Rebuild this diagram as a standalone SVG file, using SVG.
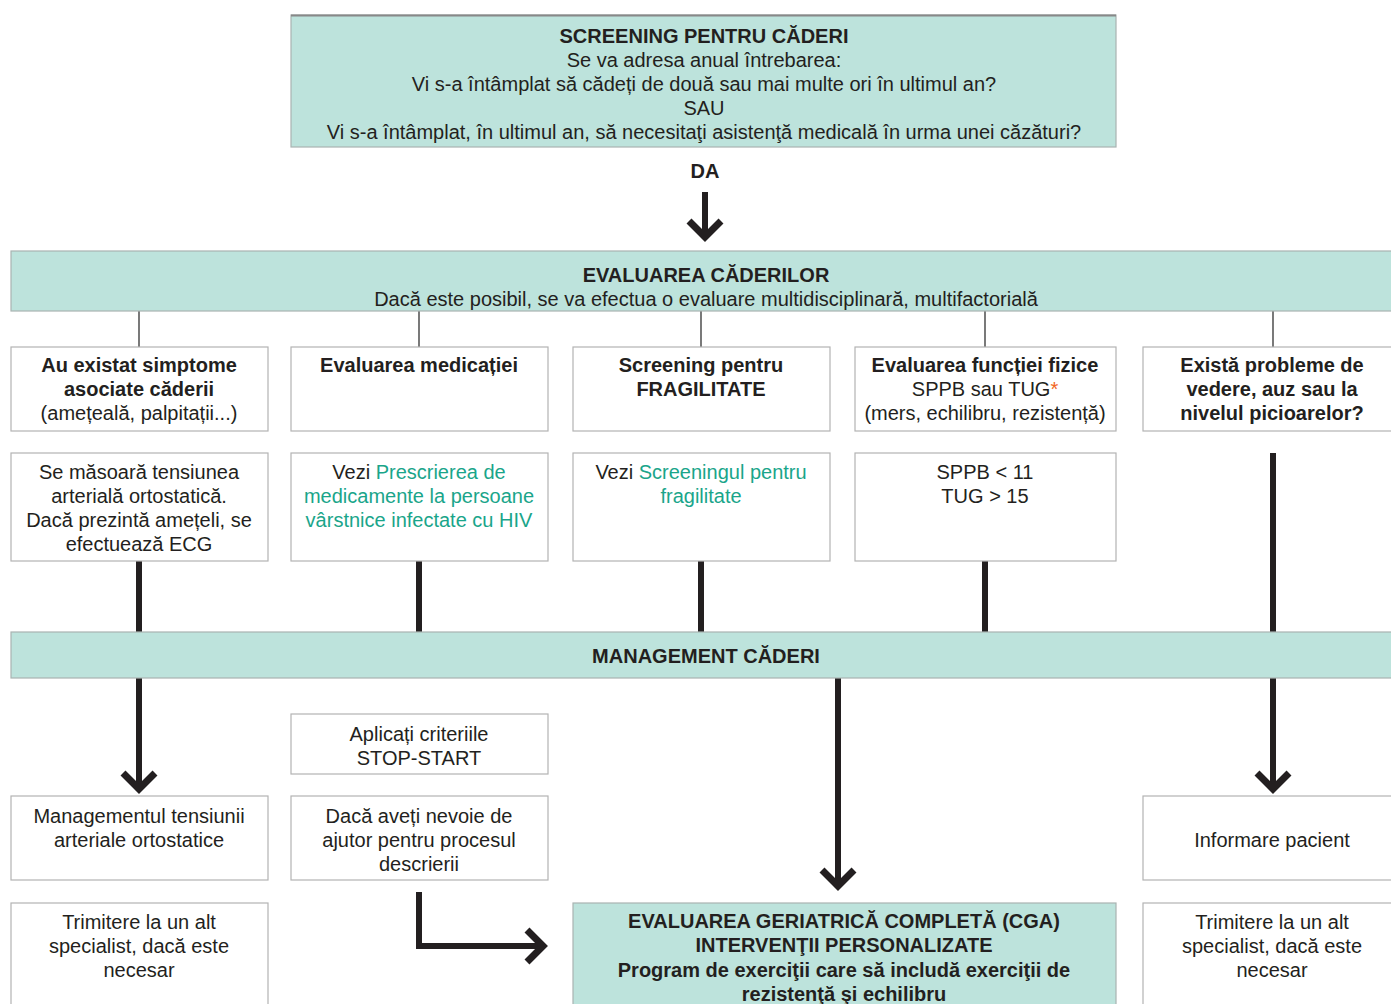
<svg xmlns="http://www.w3.org/2000/svg" width="1391" height="1004" viewBox="0 0 1391 1004">
  <style>
    text { font-family: "Liberation Sans", Arial, sans-serif; font-size: 20px; fill: #231f20; text-anchor: middle; }
    .b { font-weight: bold; }
    .link { fill: #1aa58a; }
    .star { fill: #f26522; }
    .box { fill: #ffffff; stroke: #b3b3b3; stroke-width: 1.2; }
    .band { fill: #bde3dc; stroke: #a9b3b1; stroke-width: 1.2; }
    .thin { stroke: #333333; stroke-width: 1.3; fill: none; }
    .thick { stroke: #231f20; stroke-width: 6; fill: none; }
    .arrow { stroke: #231f20; stroke-width: 6; fill: none; marker-end: url(#chev); }
  </style>
  <defs>
    <marker id="chev" markerUnits="userSpaceOnUse" markerWidth="40" markerHeight="40" refX="0" refY="0" orient="auto" overflow="visible">
      <path d="M-16,-16 L0,0 L-16,16" fill="none" stroke="#231f20" stroke-width="7" stroke-linejoin="miter"/>
    </marker>
  </defs>

  <rect width="1391" height="1004" fill="#ffffff"/>

  <!-- connectors -->
  <g id="connectors">
    <!-- DA -->
    <path class="arrow" d="M705,192 V237"/>
    <!-- thin drops from the evaluation band -->
    <path class="thin" d="M139,311 V347 M419,311 V347 M701,311 V347 M985,311 V347 M1273,311 V347"/>
    <!-- thick links into management -->
    <path class="thick" d="M139,561 V632 M419,561 V632 M701,561 V632 M985,561 V632 M1273,453 V632"/>
    <!-- management outputs -->
    <path class="arrow" d="M139,678 V789"/>
    <path class="arrow" d="M838,678 V886"/>
    <path class="arrow" d="M1273,678 V789"/>
    <!-- prescription help to CGA -->
    <path class="arrow" d="M419,892 V946 H543"/>
  </g>

  <!-- screening -->
  <g id="screening">
    <rect class="band" x="291" y="15" width="825" height="132"/>
    <line x1="291" y1="15.5" x2="1116" y2="15.5" stroke="#888888" stroke-width="2"/>
    <text x="704" y="43" class="b">SCREENING PENTRU CĂDERI</text>
    <text x="704" y="67">Se va adresa anual întrebarea:</text>
    <text x="704" y="91">Vi s-a întâmplat să cădeți de două sau mai multe ori în ultimul an?</text>
    <text x="704" y="115">SAU</text>
    <text x="704" y="139">Vi s-a întâmplat, în ultimul an, să necesitaţi asistenţă medicală în urma unei căzături?</text>
  </g>
  <g id="da"><text x="705" y="178" class="b">DA</text></g>

  <!-- evaluation band -->
  <g id="evaluare">
    <rect class="band" x="11" y="251" width="1390" height="60"/>
    <text x="706" y="282" class="b">EVALUAREA CĂDERILOR</text>
    <text x="706" y="306">Dacă este posibil, se va efectua o evaluare multidisciplinară, multifactorială</text>
  </g>

  <!-- row 1 -->
  <g id="simptome">
    <rect class="box" x="11" y="347" width="257" height="84"/>
    <text x="139" y="372" class="b">Au existat simptome</text>
    <text x="139" y="396" class="b">asociate căderii</text>
    <text x="139" y="420">(amețeală, palpitații...)</text>
  </g>
  <g id="medicatie">
    <rect class="box" x="291" y="347" width="257" height="84"/>
    <text x="419" y="372" class="b">Evaluarea medicației</text>
  </g>
  <g id="fragilitate">
    <rect class="box" x="573" y="347" width="257" height="84"/>
    <text x="701" y="372" class="b">Screening pentru</text>
    <text x="701" y="396" class="b">FRAGILITATE</text>
  </g>
  <g id="functie">
    <rect class="box" x="855" y="347" width="261" height="84"/>
    <text x="985" y="372" class="b">Evaluarea funcției fizice</text>
    <text x="985" y="396">SPPB sau TUG<tspan class="star">*</tspan></text>
    <text x="985" y="420">(mers, echilibru, rezistență)</text>
  </g>
  <g id="vedere">
    <rect class="box" x="1143" y="347" width="258" height="84"/>
    <text x="1272" y="372" class="b">Există probleme de</text>
    <text x="1272" y="396" class="b">vedere, auz sau la</text>
    <text x="1272" y="420" class="b">nivelul picioarelor?</text>
  </g>

  <!-- row 2 -->
  <g id="tensiune">
    <rect class="box" x="11" y="453" width="257" height="108"/>
    <text x="139" y="479">Se măsoară tensiunea</text>
    <text x="139" y="503">arterială ortostatică.</text>
    <text x="139" y="527">Dacă prezintă amețeli, se</text>
    <text x="139" y="551">efectuează ECG</text>
  </g>
  <g id="prescriere">
    <rect class="box" x="291" y="453" width="257" height="108"/>
    <text x="419" y="479">Vezi <tspan class="link">Prescrierea de</tspan></text>
    <text x="419" y="503" class="link">medicamente la persoane</text>
    <text x="419" y="527" class="link">vârstnice infectate cu HIV</text>
  </g>
  <g id="screening-fragilitate">
    <rect class="box" x="573" y="453" width="257" height="108"/>
    <text x="701" y="479">Vezi <tspan class="link">Screeningul pentru</tspan></text>
    <text x="701" y="503" class="link">fragilitate</text>
  </g>
  <g id="praguri">
    <rect class="box" x="855" y="453" width="261" height="108"/>
    <text x="985" y="479">SPPB &lt; 11</text>
    <text x="985" y="503">TUG &gt; 15</text>
  </g>

  <!-- management band -->
  <g id="management">
    <rect class="band" x="11" y="632" width="1390" height="46"/>
    <text x="706" y="663" class="b">MANAGEMENT CĂDERI</text>
  </g>

  <!-- outputs -->
  <g id="stop-start">
    <rect class="box" x="291" y="714" width="257" height="60"/>
    <text x="419" y="741">Aplicați criteriile</text>
    <text x="419" y="765">STOP-START</text>
  </g>
  <g id="ajutor">
    <rect class="box" x="291" y="796" width="257" height="84"/>
    <text x="419" y="823">Dacă aveți nevoie de</text>
    <text x="419" y="847">ajutor pentru procesul</text>
    <text x="419" y="871">descrierii</text>
  </g>
  <g id="management-tensiune">
    <rect class="box" x="11" y="796" width="257" height="84"/>
    <text x="139" y="823">Managementul tensiunii</text>
    <text x="139" y="847">arteriale ortostatice</text>
  </g>
  <g id="informare">
    <rect class="box" x="1143" y="796" width="258" height="84"/>
    <text x="1272" y="847">Informare pacient</text>
  </g>
  <g id="trimitere-stanga">
    <rect class="box" x="11" y="903" width="257" height="120"/>
    <text x="139" y="929">Trimitere la un alt</text>
    <text x="139" y="953">specialist, dacă este</text>
    <text x="139" y="977">necesar</text>
  </g>
  <g id="trimitere-dreapta">
    <rect class="box" x="1143" y="903" width="258" height="120"/>
    <text x="1272" y="929">Trimitere la un alt</text>
    <text x="1272" y="953">specialist, dacă este</text>
    <text x="1272" y="977">necesar</text>
  </g>
  <g id="cga">
    <rect class="band" x="573" y="903" width="543" height="120"/>
    <text x="844" y="928" class="b">EVALUAREA GERIATRICĂ COMPLETĂ (CGA)</text>
    <text x="844" y="952" class="b">INTERVENŢII PERSONALIZATE</text>
    <text x="844" y="977" class="b">Program de exerciţii care să includă exerciţii de</text>
    <text x="844" y="1001" class="b">rezistenţă şi echilibru</text>
  </g>
</svg>
